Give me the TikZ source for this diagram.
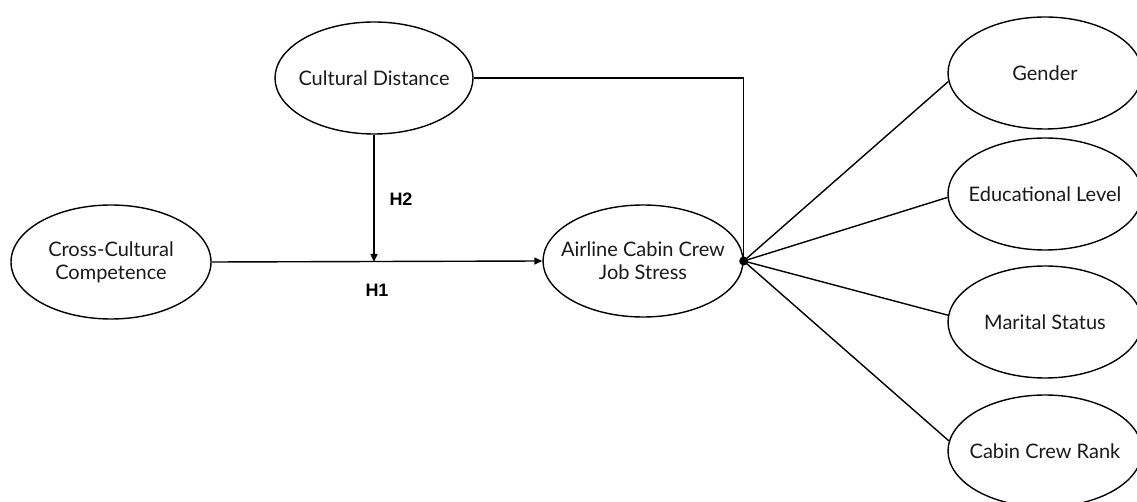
\documentclass[tikz,border=0pt]{standalone}
\usepackage{fontspec}
\setmainfont{Lato}
\newfontfamily\hfont{Liberation Sans}
\usetikzlibrary{shapes.geometric,arrows.meta}
\begin{document}
\begin{tikzpicture}[x=1pt,y=-1pt,
  var/.style={draw=black,line width=1.4pt,ellipse,inner sep=-22pt,minimum width=198pt,minimum height=112pt,align=center,font=\fontsize{20}{23}\selectfont,text=black!90},
  conn/.style={draw=black,line width=1.4pt},
  arr/.style={conn,-{Triangle[length=8pt,width=7pt]}},
  hlab/.style={font=\hfont\bfseries\fontsize{18}{21}\selectfont}]
\useasboundingbox (0,0) rectangle (1137,502);
\clip (0,0) rectangle (1137,502);
\node[var] (cd) at (374,78) {Cultural Distance};
\node[var,minimum width=200pt,minimum height=114pt] (ccc) at (111,262) {Cross-Cultural\\Competence};
\node[var,minimum width=200pt] (acs) at (643,261) {Airline Cabin Crew\\Job Stress};
\node[var,minimum width=194pt] (gen) at (1045,73) {Gender};
\node[var,minimum width=194pt] (edu) at (1045,194) {Educational Level};
\node[var,minimum width=194pt] (mar) at (1045,322) {Marital Status};
\node[var,minimum width=194pt] (rank) at (1045,451) {Cabin Crew Rank};
\fill[black] (acs.east) circle (4.5pt);
\coordinate (dot) at (acs.east);
\coordinate (meet) at (cd.south |- ccc.east);
\draw[arr] (ccc.east) -- (acs.west);
\draw[arr] (cd.south) -- (meet);
\draw[conn] (cd.east) -| (dot);
\draw[conn] (dot) -- (gen.185);
\draw[conn] (dot) -- (edu.182);
\draw[conn] (dot) -- (mar.176);
\draw[conn] (dot) -- (rank.174);
\node[hlab] (h2) at (401,199) {H2};
\node[hlab] (h1) at (377,290) {H1};
\end{tikzpicture}
\end{document}
